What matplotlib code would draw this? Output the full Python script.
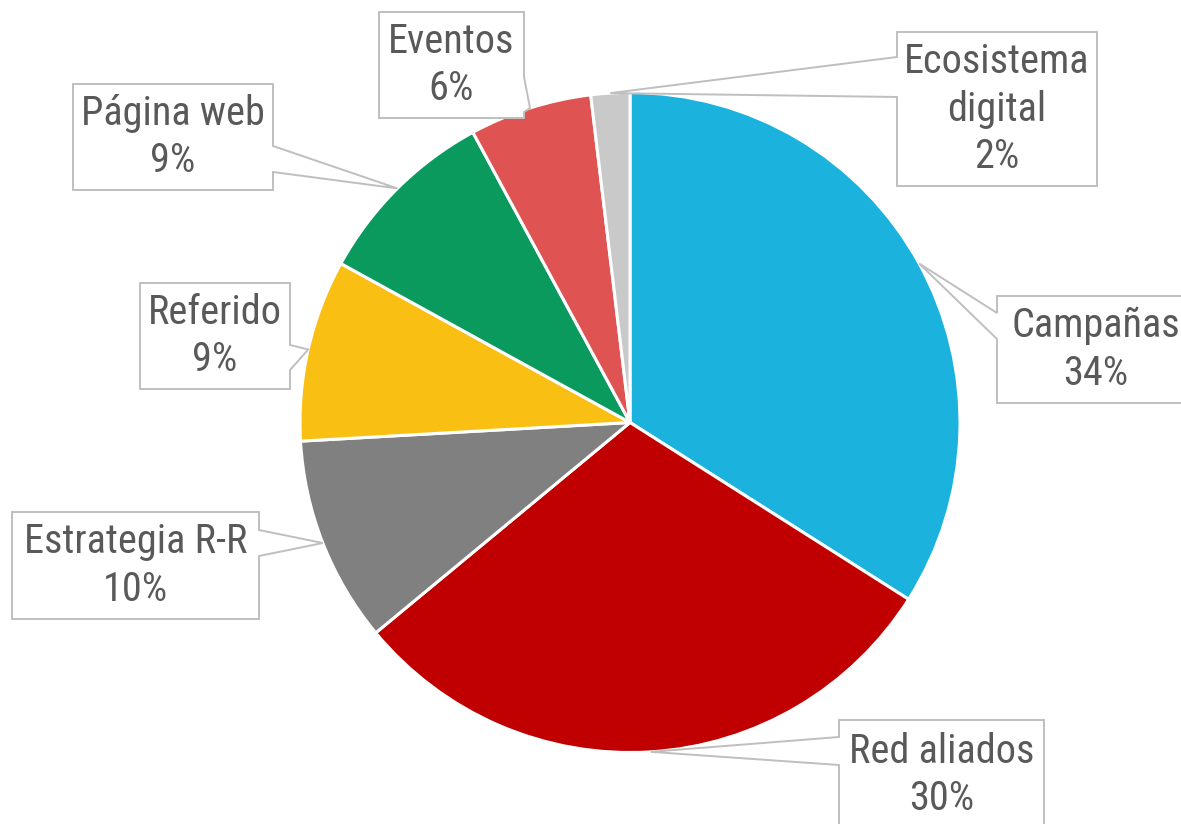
import matplotlib
matplotlib.use('Agg')
import matplotlib.pyplot as plt
import numpy as np
from matplotlib.patches import Polygon

categories = ['Campañas', 'Red aliados', 'Estrategia R-R', 'Referido',
              'Página web', 'Eventos', 'Ecosistema\ndigital']
values = [34.0, 30.0, 10.1, 8.9, 9.1, 6.0, 1.9]
pct_labels = ['34%', '30%', '10%', '9%', '9%', '6%', '2%']
colors = ['#1BB3DE', '#C00000', '#808080', '#F9C013', '#0A9A5E', '#E05353', '#C9C9C9']

W, H = 1181, 824
fig = plt.figure(figsize=(W / 100, H / 100), dpi=100)
ax = fig.add_axes([0, 0, 1, 1])

CX, CY, R = 630, H - 422.5, 330
ax.pie(values, colors=colors, startangle=90, counterclock=False,
       center=(CX, CY), radius=R, frame=True,
       wedgeprops=dict(edgecolor='white', linewidth=2.2))
ax.set_xlim(0, W)
ax.set_ylim(0, H)
ax.set_aspect('equal')
ax.axis('off')

# callout box layout (pixel coords: left, top, right, bottom, side, base0, base1)
layout = [
    (997, 296, 1195, 403, 'left', 313, 339),
    (839, 720, 1044, 840, 'left', 737, 765),
    (12, 512, 259, 619, 'right', 530, 556),
    (140, 283, 290, 389, 'right', 345, 370),
    (73, 84, 273, 190, 'right', 146, 172),
    (379, 12, 524, 118, 'right', 77, 112),
    (897, 32, 1097, 186, 'left', 57, 97),
]

total = sum(values)
cum = 0.0
font = ['Roboto Condensed', 'Liberation Sans', 'DejaVu Sans']
for cat, v, pl, lay in zip(categories, values, pct_labels, layout):
    mid = np.deg2rad(90 - 360 * (cum + v / 2) / total)
    cum += v
    tx, ty = CX + R * np.cos(mid), CY + R * np.sin(mid)
    l, t, r, b, side, b0, b1 = lay
    Y = lambda y: H - y
    pts = [(l, Y(t)), (r, Y(t))]
    if side == 'right':
        pts += [(r, Y(b0)), (tx, ty), (r, Y(b1))]
    pts += [(r, Y(b)), (l, Y(b))]
    if side == 'left':
        pts += [(l, Y(b1)), (tx, ty), (l, Y(b0))]
    ax.add_patch(Polygon(pts, closed=True, facecolor='white',
                         edgecolor='#BFBFBF', linewidth=1.4, zorder=5))
    cy = (t + b) / 2 if b <= H else t + 55
    ax.text((l + r) / 2, Y(cy), f'{cat}\n{pl}', ha='center', va='center',
            multialignment='center', fontsize=29, color='#595959',
            family=font, zorder=6, linespacing=1.28)

fig.savefig('out.png', dpi=100)
